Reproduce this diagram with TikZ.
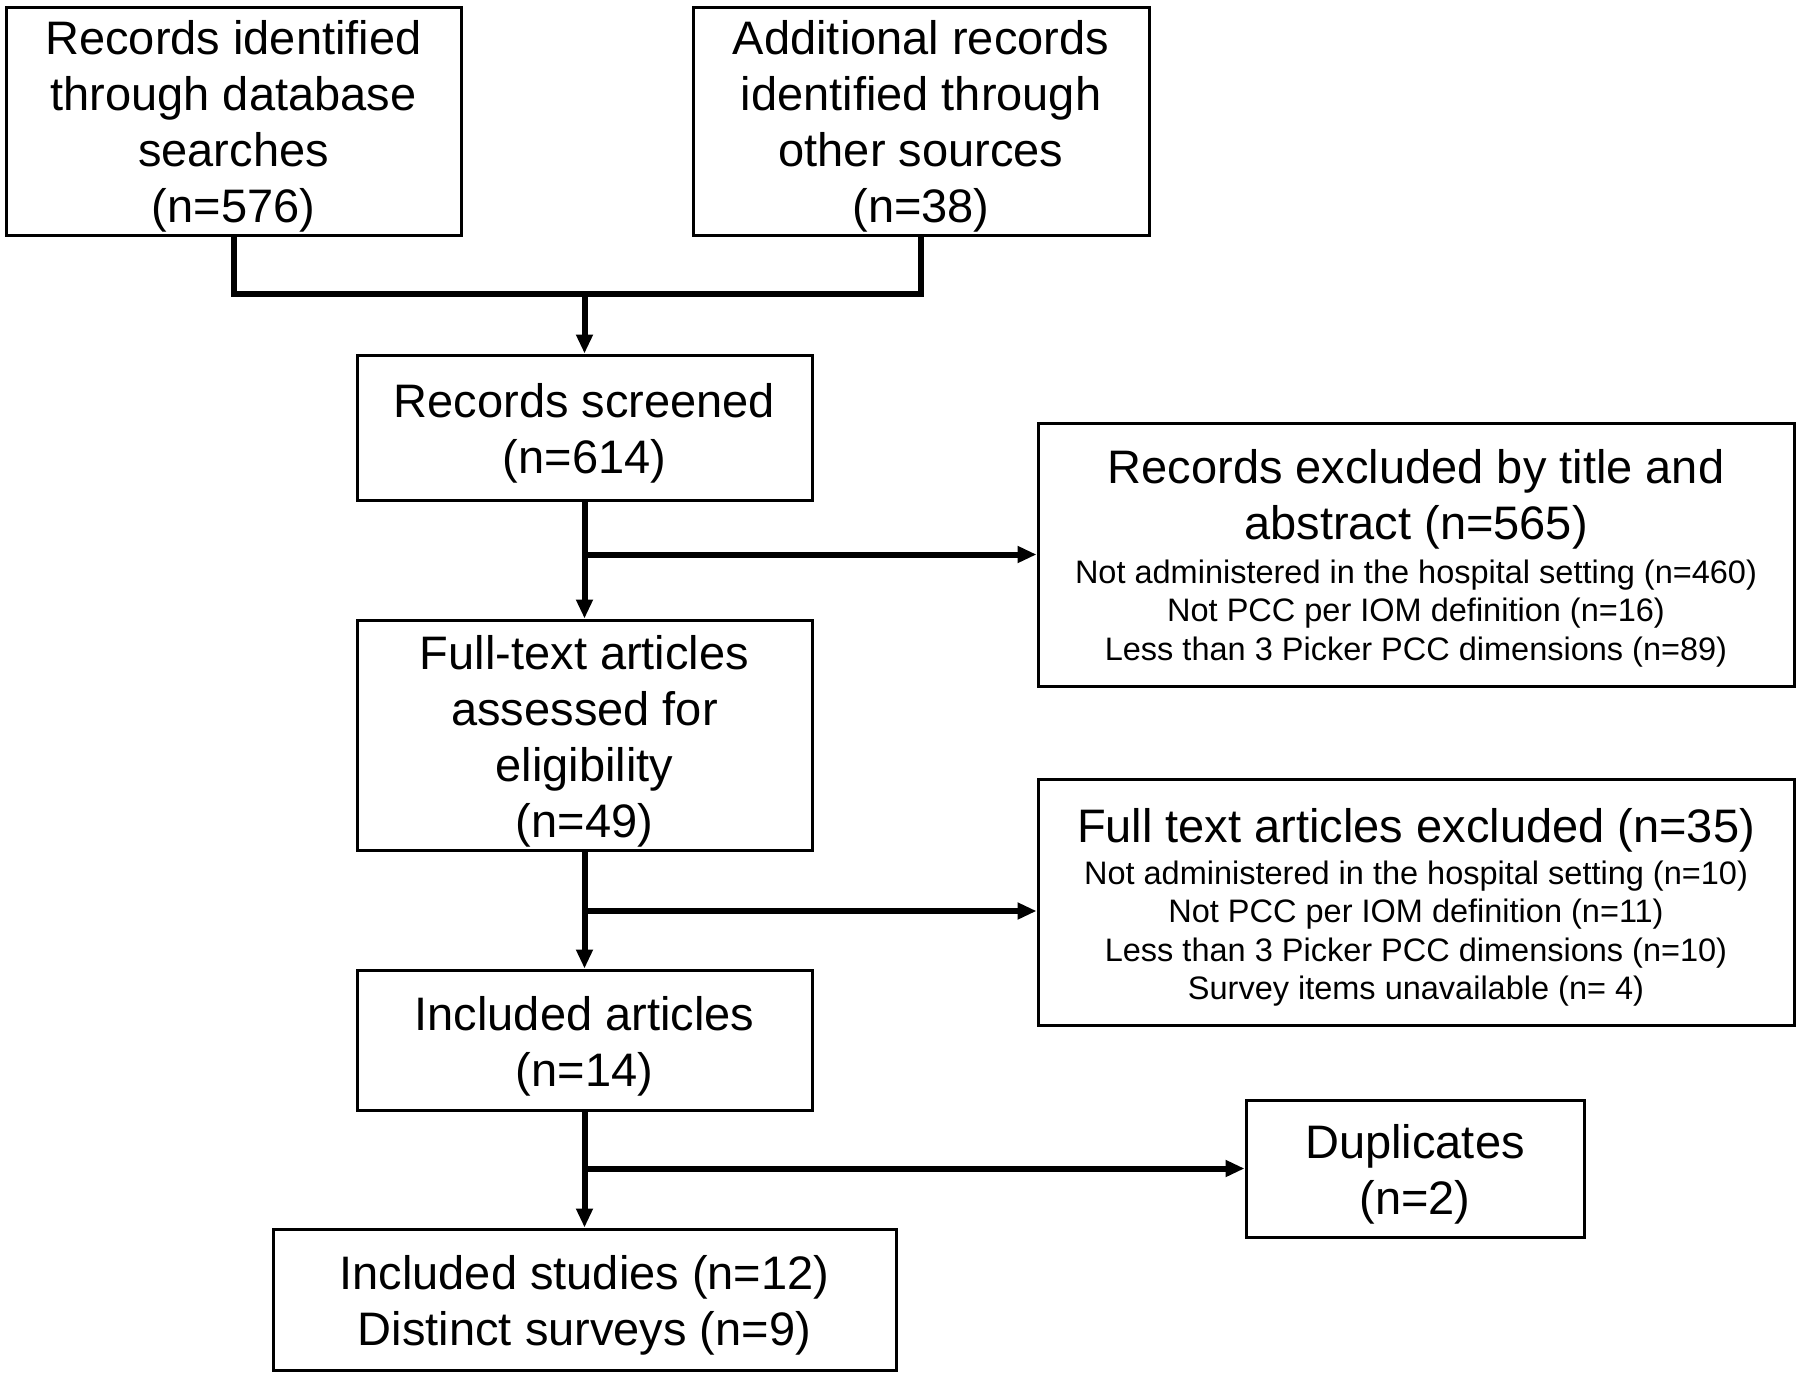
\documentclass[tikz,border=0pt]{standalone}
\usepackage{fontspec}
\setmainfont{Liberation Sans}
\usetikzlibrary{arrows.meta}
\newcommand\myBig{\fontsize{23.5}{28}\selectfont}
\newcommand\mySmall{\fontsize{16.25}{19.25}\selectfont}
\tikzset{
  box/.style={draw, line width=1.5pt, inner sep=0pt},
  txt/.style={align=center, font=\myBig, inner sep=0pt},
  smalltxt/.style={align=center, font=\mySmall, inner sep=0pt},
  conn/.style={line width=3pt},
  arr/.style={conn, -{Triangle[length=9.5pt,width=8pt]}},
}
\begin{document}
\begin{tikzpicture}[x=0.5pt,y=-0.5pt]
\useasboundingbox[fill=white] (0,0) rectangle (1800,1377);
% boxes
\node[box, minimum width=227.5pt, minimum height=114pt] (b1) at (233.5,121) {};
\node[txt] (b1x) at ([yshift=-2.8pt]b1.center)
  {Records identified\\through database\\searches\\(n=576)};
\node[box, minimum width=228pt, minimum height=114pt] (b2) at (921,121) {};
\node[txt] (b2x) at ([yshift=-2.8pt]b2.center)
  {Additional records\\identified through\\other sources\\(n=38)};
\node[box, minimum width=227.5pt, minimum height=72.5pt] (b3) at (584.5,427.5) {};
\node[txt] (b3x) at ([yshift=-3pt]b3.center) {Records screened\\(n=614)};
\node[box, minimum width=378pt, minimum height=131.5pt] (b4) at (1416,554.5) {};
\node[txt] (b4t) at (1416,499.5)
  {Records excluded by title and\\abstract (n=565)};
\node[smalltxt] (b4l) at (1416,613.5)
  {Not administered in the hospital setting (n=460)\\Not PCC per IOM definition (n=16)\\Less than 3 Picker PCC dimensions (n=89)};
\node[box, minimum width=227.5pt, minimum height=115pt] (b5) at (584.5,735) {};
\node[txt] (b5x) at ([yshift=-3pt]b5.center)
  {Full-text articles\\assessed for\\eligibility\\(n=49)};
\node[box, minimum width=378pt, minimum height=123pt] (b6) at (1416,902) {};
\node[txt] (b6t) at (1416,830.5)
  {Full text articles excluded (n=35)};
\node[smalltxt] (b6l) at (1416,933.5)
  {Not administered in the hospital setting (n=10)\\Not PCC per IOM definition (n=11)\\Less than 3 Picker PCC dimensions (n=10)\\Survey items unavailable (n= 4)};
\node[box, minimum width=227.5pt, minimum height=70pt] (b7) at (584.5,1040) {};
\node[txt] (b7x) at ([yshift=-3pt]b7.center) {Included articles\\(n=14)};
\node[box, minimum width=169pt, minimum height=68.5pt] (b8) at (1415,1168.5) {};
\node[txt] (b8x) at ([yshift=-3pt]b8.center) {Duplicates\\(n=2)};
\node[box, minimum width=311.5pt, minimum height=70.5pt] (b9) at (584.5,1299.5) {};
\node[txt] (b9x) at ([yshift=-3pt]b9.center) {Included studies (n=12)\\Distinct surveys (n=9)};
% connectors
\coordinate (m) at (584.5,294);
\draw[conn] (b1.south) |- (m);
\draw[conn] (b2.south) |- (m);
\draw[arr] (m) -- (b3.north);
\coordinate (j1) at (584.5,554.5);
\draw[arr] (b3.south) -- (b5.north);
\draw[arr] (j1) -- (j1 -| b4.west);
\coordinate (j2) at (584.5,911);
\draw[arr] (b5.south) -- (b7.north);
\draw[arr] (j2) -- (j2 -| b6.west);
\coordinate (j3) at (584.5,1168.5);
\draw[arr] (b7.south) -- (b9.north);
\draw[arr] (j3) -- (j3 -| b8.west);
\end{tikzpicture}
\end{document}
